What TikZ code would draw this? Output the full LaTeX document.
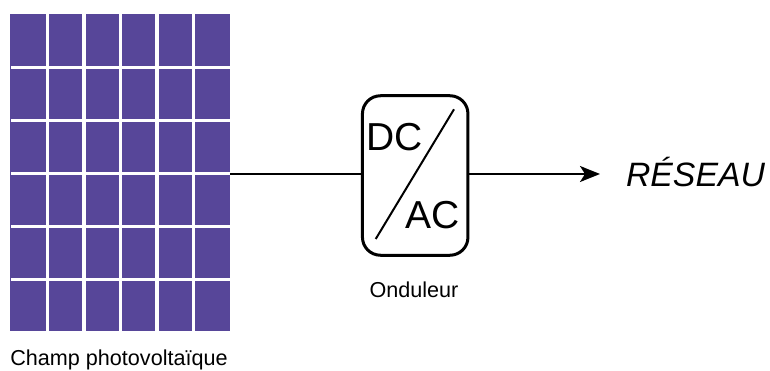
\documentclass[tikz,border=0pt]{standalone}
\usepackage{fontspec}
\setmainfont{Liberation Sans}
\usetikzlibrary{arrows.meta,positioning}

\begin{document}
\begin{tikzpicture}[x=1pt,y=-1pt,
    petit/.style={font=\fontsize{21.6}{26}\selectfont},
    grand/.style={font=\fontsize{39}{44}\selectfont,inner sep=0pt}]
    % Definizione colori
    \definecolor{panneaucolor}{RGB}{87,70,153}
    \useasboundingbox (0,0) rectangle (770,371);

    % Champ
    \node[fill=panneaucolor,minimum width=220pt,minimum height=317pt,inner sep=0pt] (champ) at (120,172.5) {};
    \foreach \x in {47.3,83.8,120.3,156.8,193.3} {
        \draw[white,line width=3.4pt] (\x,14) -- (\x,331);
    }
    \foreach \y in {67.7,120.7,173.7,226.7,279.7} {
        \draw[white,line width=3.4pt] (11,\y) -- (230,\y);
    }
    \node[petit,inner sep=0pt] (champlabel) at (119,360.3) {Champ photovoltaïque};

    % Onduleur
    \node[draw,line width=3pt,rounded corners=18pt,minimum width=105.5pt,minimum height=159.5pt,inner sep=0pt] (onduleur) at (415.2,175.5) {};
    \draw[line width=2pt] (375.7,239) -- (454,109.3);
    \node[grand] (dc) at (394.5,137) {DC};
    \node[grand] (ac) at (433,215) {AC};
    \node[petit,inner sep=0pt] (onduleurlabel) at (414,290) {Onduleur};

    % Reseau
    \node[font=\fontsize{33.8}{40}\selectfont\itshape,inner sep=0pt] (reseau) at (695.5,172) {RÉSEAU};
    \coordinate (fin) at (600,174);

    % Connexions
    \draw[line width=2pt] (champ.east |- fin) -- (onduleur.west |- fin);
    \draw[line width=2pt,-{Stealth[length=20pt,width=16pt,inset=5pt]}] (onduleur.east |- fin) -- (fin);
\end{tikzpicture}
\end{document}
